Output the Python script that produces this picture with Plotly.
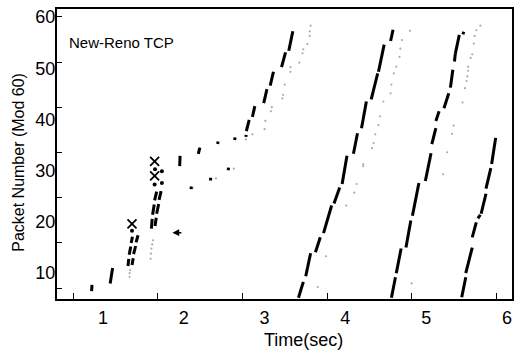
import plotly.graph_objects as go

# ---- data (time in sec, packet number mod 60) ----
# black send segments: start/end points
send_t0 = [0.86, 1.09, 1.31, 1.325, 1.35, 1.36, 1.38, 1.41, 1.60, 1.615, 1.64, 1.645, 1.665, 1.695,
           1.95, 2.18, 2.42, 2.63, 2.09, 2.33, 2.55,
           2.77, 2.775, 2.85, 2.99, 3.07, 3.21, 3.30,
           3.42, 3.51, 3.63, 3.73, 3.86, 3.96, 4.10, 4.20, 4.32, 4.41, 4.56,
           4.57, 4.63, 4.75, 4.83, 4.99, 5.07, 5.12, 5.22, 5.30, 5.35, 5.36, 5.455,
           5.44, 5.49, 5.57, 5.64, 5.68, 5.74, 5.81]
send_y0 = [6.5, 8.0, 11.4, 13.6, 15.9, 11.6, 13.7, 16.0, 18.7, 21.4, 24.2, 19.2, 21.6, 24.3,
           30.9, 33.3, 35.2, 36.0, 26.4, 28.1, 30.1,
           36.6, 37.7, 40.5, 43.2, 46.6, 50.2, 53.4,
           5.2, 9.4, 14.1, 17.8, 23.6, 27.4, 33.3, 38.3, 43.9, 49.3, 55.3,
           5.2, 10.0, 15.0, 21.2, 28.0, 35.2, 39.7, 42.2, 46.2, 51.3, 52.8, 56.6,
           5.3, 10.0, 17.0, 20.7, 21.6, 26.5, 31.3]
send_t1 = [0.865, 1.12, 1.32, 1.345, 1.365, 1.375, 1.405, 1.435, 1.61, 1.635, 1.665, 1.66, 1.69, 1.72,
           1.955, 2.20, 2.425, 2.635, 2.095, 2.335, 2.555,
           2.772, 2.81, 2.88, 3.03, 3.11, 3.26, 3.35,
           3.48, 3.57, 3.69, 3.83, 3.93, 4.02, 4.15, 4.26, 4.40, 4.48, 4.59,
           4.62, 4.69, 4.81, 4.91, 5.06, 5.12, 5.16, 5.28, 5.33, 5.36, 5.41, 5.465,
           5.49, 5.57, 5.62, 5.67, 5.74, 5.80, 5.86]
send_y1 = [7.7, 11.0, 12.8, 15.2, 17.1, 12.9, 15.3, 17.4, 20.6, 23.4, 25.9, 20.8, 23.5, 26.0,
           32.9, 34.5, 35.7, 36.5, 26.9, 28.6, 30.6,
           37.0, 39.9, 42.6, 45.9, 49.3, 53.1, 57.2,
           8.3, 13.9, 17.0, 23.2, 26.7, 32.9, 37.3, 43.5, 49.0, 54.6, 57.5,
           9.2, 14.8, 20.3, 27.6, 33.4, 38.3, 41.6, 45.1, 49.7, 52.8, 56.5, 57.1,
           9.2, 15.0, 19.9, 21.4, 25.5, 30.5, 36.4]

# grey ack dots
ack_t = [1.33, 1.33, 1.335, 1.59, 1.595, 1.60, 1.61, 1.62,
         2.11, 2.40, 2.62,
         2.77, 2.85, 3.00, 3.01, 3.08, 3.09, 3.22, 3.23, 3.25, 3.32, 3.32, 3.43, 3.47, 3.48, 3.53, 3.56, 3.56, 3.57,
         3.66, 3.76, 4.01, 4.11, 4.14, 4.22, 4.22, 4.33, 4.35, 4.37, 4.41, 4.43, 4.47, 4.56, 4.57, 4.60, 4.63,
         4.67, 4.68, 4.70, 4.80,
         4.82, 5.21, 5.26, 5.32, 5.34, 5.45, 5.48, 5.50, 5.51, 5.52, 5.52, 5.55, 5.57, 5.59, 5.60, 5.62, 5.67]
ack_y = [9.3, 10.0, 10.6, 12.8, 13.8, 14.8, 15.6, 16.4,
         26.6, 28.5, 30.4,
         36.1, 37.1, 38.1, 39.7, 41.6, 42.4, 44.1, 44.8, 46.8, 49.3, 50.2, 51.1, 52.9, 53.7, 54.7, 56.3, 57.2, 58.3,
         7.3, 13.3, 23.2, 25.7, 27.4, 30.9, 31.3, 34.4, 35.4, 37.1, 38.9, 40.6, 43.5, 45.1, 46.8, 49.0, 50.3,
         52.2, 53.8, 55.5, 57.3,
         8.0, 29.3, 33.6, 37.2, 38.8, 43.3, 46.1, 47.5, 48.4, 49.5, 50.3, 52.0, 52.7, 54.8, 56.3, 57.4, 58.3]

# dropped packets (X) and retransmission marks
drop_t = [1.36, 1.64, 1.64]
drop_y = [19.6, 31.8, 29.0]
mark_t = [1.36, 1.645, 1.73, 1.73, 1.64]
mark_y = [18.3, 30.3, 29.9, 27.6, 27.3]

# arrow: head and tail
arrow_head = (1.86, 17.9)
arrow_tail = (1.99, 17.9)

x_ticks = [1, 2, 3, 4, 5, 6]
y_ticks = [10, 20, 30, 40, 50, 60]

# ---- build figure ----
seg_x, seg_y = [], []
for a, b, c, d in zip(send_t0, send_y0, send_t1, send_y1):
    seg_x += [a, c, None]
    seg_y += [b, d, None]

fig = go.Figure()
fig.add_trace(go.Scatter(x=ack_t, y=ack_y, mode="markers",
                         marker=dict(size=2.2, color="#ababab"), hoverinfo="skip"))
fig.add_trace(go.Scatter(x=seg_x, y=seg_y, mode="lines",
                         line=dict(color="black", width=3.0), hoverinfo="skip"))
fig.add_trace(go.Scatter(x=drop_t, y=drop_y, mode="markers",
                         marker=dict(symbol="x-thin", size=9, line=dict(width=1.8, color="black"))))
fig.add_trace(go.Scatter(x=mark_t, y=mark_y, mode="markers",
                         marker=dict(symbol="circle", size=4, color="black")))

fig.add_annotation(x=arrow_head[0], y=arrow_head[1], ax=arrow_tail[0], ay=arrow_tail[1],
                   xref="x", yref="y", axref="x", ayref="y", text="",
                   showarrow=True, arrowhead=2, arrowsize=0.9, arrowwidth=1.5, arrowcolor="black")

font_fam = "Liberation Sans, Arial, sans-serif"
fig.add_annotation(x=0.022, y=0.885, xref="paper", yref="paper", xanchor="left", yanchor="middle",
                   text="New-Reno TCP", showarrow=False,
                   font=dict(family=font_fam, size=15, color="black"))
fig.add_annotation(x=0.542, y=-0.14, xref="paper", yref="paper", xanchor="center", yanchor="middle",
                   text="Time(sec)", showarrow=False,
                   font=dict(family=font_fam, size=18, color="black"))
fig.add_annotation(x=19, y=0.47, xref="paper", yref="paper", xanchor="center", yanchor="middle",
                   text="Packet Number (Mod 60)", showarrow=False, textangle=-90,
                   font=dict(family=font_fam, size=16, color="black"))
# convert pixel x of y-title to paper coords
fig.layout.annotations[-1].x = (19 - 57) / 456

fig.update_layout(
    width=521, height=353,
    margin=dict(l=57, r=8, t=7, b=54),
    paper_bgcolor="white", plot_bgcolor="white",
    showlegend=False,
    font=dict(family=font_fam, color="black"),
    xaxis=dict(range=[0.432, 6.062], tickvals=x_ticks, ticktext=[str(v) for v in x_ticks],
               ticks="", showgrid=False, zeroline=False,
               showline=True, linecolor="black", linewidth=2, mirror=True,
               tickfont=dict(size=18, family=font_fam), ticklabelstandoff=1,
               minor=dict(tick0=0.63, dtick=1.048, ticks="inside", ticklen=6, tickwidth=1.2,
                          tickcolor="black", showgrid=False)),
    yaxis=dict(range=[4.96, 61.55], tickvals=y_ticks, ticktext=[str(v) for v in y_ticks],
               ticks="", showgrid=False, zeroline=False,
               showline=True, linecolor="black", linewidth=2, mirror=True,
               tickfont=dict(size=18, family=font_fam), ticklabelstandoff=-4,
               minor=dict(tick0=7.1, dtick=8.82, ticks="inside", ticklen=5, tickwidth=1.2,
                          tickcolor="black", showgrid=False)),
)

fig.write_html("out.html")
